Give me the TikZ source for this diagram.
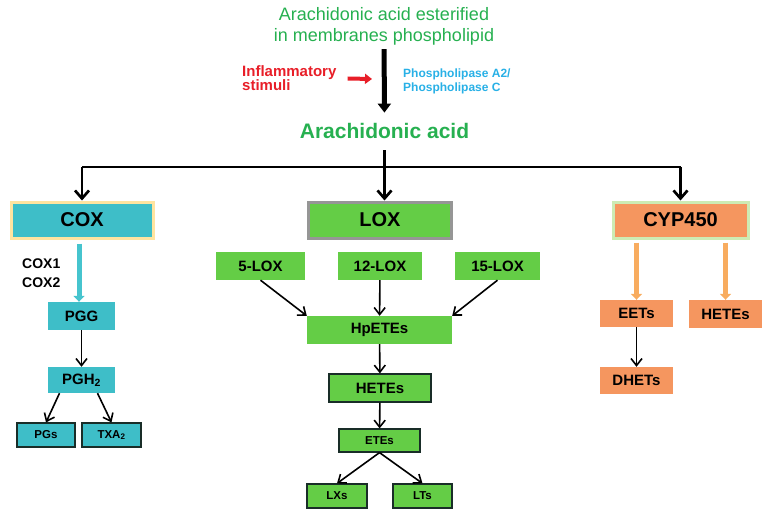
\documentclass[tikz,border=0pt]{standalone}
\usepackage{fontspec}
\setmainfont{Liberation Sans}
\usepackage{tikz}
\usetikzlibrary{arrows.meta}
\usepackage{xcolor}
\definecolor{aagreen}{RGB}{38,176,80}
\definecolor{stimred}{RGB}{232,30,40}
\definecolor{plablue}{RGB}{40,176,230}
\definecolor{coxcyan}{RGB}{62,190,200}
\definecolor{coxglow}{RGB}{255,228,160}
\definecolor{coxarrow}{RGB}{70,196,206}
\definecolor{loxgreen}{RGB}{100,205,70}
\definecolor{loxrim}{RGB}{150,150,150}
\definecolor{cyporange}{RGB}{245,150,95}
\definecolor{cyprim}{RGB}{205,235,180}
\definecolor{cyparrow}{RGB}{248,172,95}
\definecolor{rim}{RGB}{25,45,40}

\begin{document}
\begin{tikzpicture}[x=1pt,y=-1pt,
        box/.style={inner sep=0pt, font={\fontsize{15}{15}\selectfont\bfseries}},
        bigbox/.style={box, font={\fontsize{20}{20}\selectfont\bfseries}},
        smallbox/.style={box, font={\fontsize{11.5}{11.5}\selectfont\bfseries}},
        framed/.style={draw=rim, line width=1.2pt},
        coxbox/.style={fill=coxcyan},
        loxbox/.style={fill=loxgreen},
        cypbox/.style={fill=cyporange},
        branch/.style={line width=2.7pt, -{Straight Barb[length=8pt,width=14pt]}},
        flow/.style={line width=1.6pt, -{Straight Barb[length=7pt,width=11pt]}},
        fat/.style={line width=5pt, -{Triangle[length=6pt,width=11pt]}}]
        \useasboundingbox (0,0) rectangle (767,516);
        % top of the pathway
        \node[align=center, text=aagreen, inner sep=4pt, font={\fontsize{18}{21}\selectfont}] (src) at (384,26) {Arachidonic acid esterified\\in membranes phospholipid};
        \node[anchor=base, text=aagreen, inner sep=0pt, font={\fontsize{21}{21}\selectfont\bfseries}] (aa) at (384.5,138) {Arachidonic acid};
        \draw[line width=5pt, -{Triangle[length=9pt,width=13pt]}, shorten >=10pt] (src) -- (aa);
        \node[anchor=west, align=left, text=stimred, inner sep=0pt, font={\fontsize{15}{14}\selectfont\bfseries}] (stim) at (242,78.5) {Inflammatory\\stimuli};
        \node[anchor=west, align=left, text=plablue, inner sep=0pt, font={\fontsize{12}{14}\selectfont\bfseries}] (pla) at (403,81) {Phospholipase A2/\\Phospholipase C};
        \coordinate (hit) at (372,79);
        \draw[stimred, line width=4pt, -{Triangle[length=7pt,width=10pt]}] ([xshift=11pt]stim.east) -- (hit);

        % three branches
        \node[bigbox, coxbox, draw=coxglow, line width=3pt, minimum width=142pt, minimum height=36pt] (cox) at (82,220) {COX};
        \node[bigbox, loxbox, draw=loxrim, line width=3pt, minimum width=143pt, minimum height=36pt] (lox) at (380,220) {LOX};
        \node[bigbox, cypbox, draw=cyprim, line width=3pt, minimum width=135pt, minimum height=36pt] (cyp) at (680.5,220) {CYP450};
        \coordinate (split) at (384.5,167);
        \draw[line width=2.7pt, shorten <=12pt] (aa.south) -- (split);
        \draw[line width=2.7pt] (cox.north |- split) -- (cyp.north |- split);
        \draw[branch] (cox.north |- split) -- (cox.north);
        \draw[branch] (split) -- (split |- lox.north);
        \draw[branch] (cyp.north |- split) -- (cyp.north);

        % COX side
        \node[anchor=west, align=left, inner sep=0pt, font={\fontsize{14}{19}\selectfont\bfseries}] (isof) at (22,273) {COX1\\COX2};
        \node[box, coxbox, minimum width=67pt, minimum height=28pt] (pgg) at (81.5,316) {PGG};
        \node[box, coxbox, minimum width=67pt, minimum height=26pt] (pgh) at (81.5,380) {PGH\textsubscript{2}};
        \node[smallbox, coxbox, framed, minimum width=58pt, minimum height=24pt] (pgs) at (46,435) {PGs};
        \node[smallbox, coxbox, framed, minimum width=59pt, minimum height=24pt] (txa) at (111.5,435) {TXA\textsubscript{2}};
        \draw[fat, coxarrow, shorten <=4pt] (cox.south -| 79,0) -- (pgg.north -| 79,0);
        \draw[flow] (pgg) -- (pgh);
        \draw[flow] ([xshift=-22pt]pgh.south) -- (pgs.north);
        \draw[flow] ([xshift=16pt]pgh.south) -- (txa.north);

        % LOX side
        \node[box, loxbox, minimum width=89pt, minimum height=28pt] (lox5) at (260.5,266) {5-LOX};
        \node[box, loxbox, minimum width=84pt, minimum height=28pt] (lox12) at (380,266) {12-LOX};
        \node[box, loxbox, minimum width=85pt, minimum height=28pt] (lox15) at (497.5,266) {15-LOX};
        \node[box, loxbox, minimum width=145pt, minimum height=28pt] (hpete) at (379.5,330) {HpETEs};
        \node[box, loxbox, framed, minimum width=102pt, minimum height=28pt] (hete) at (380,388) {HETEs};
        \node[smallbox, loxbox, framed, minimum width=81pt, minimum height=23pt] (ete) at (379.5,440.5) {ETEs};
        \node[smallbox, loxbox, framed, minimum width=60pt, minimum height=24pt] (lxs) at (337,496) {LXs};
        \node[smallbox, loxbox, framed, minimum width=59pt, minimum height=24pt] (lts) at (422.5,496) {LTs};
        \draw[flow] (lox5.south) -- (hpete.north west);
        \draw[flow] (lox12) -- (hpete);
        \draw[flow] (lox15.south) -- (hpete.north east);
        \draw[flow] (hpete) -- (hete);
        \draw[flow] (hete) -- (ete);
        \draw[flow] (ete.south) -- (lxs.north);
        \draw[flow] (ete.south) -- (lts.north);

        % CYP side
        \node[box, cypbox, minimum width=73pt, minimum height=27pt] (eet) at (636.5,313.5) {EETs};
        \node[box, cypbox, minimum width=73pt, minimum height=28pt] (cyphete) at (725.5,314) {HETEs};
        \node[box, cypbox, minimum width=73pt, minimum height=27pt] (dhet) at (636.5,380.5) {DHETs};
        \draw[fat, cyparrow, shorten <=3pt] (cyp.south -| eet.north) -- (eet.north);
        \draw[fat, cyparrow, shorten <=3pt] (cyp.south -| cyphete.north) -- (cyphete.north);
        \draw[flow] (eet) -- (dhet);
\end{tikzpicture}
\end{document}
